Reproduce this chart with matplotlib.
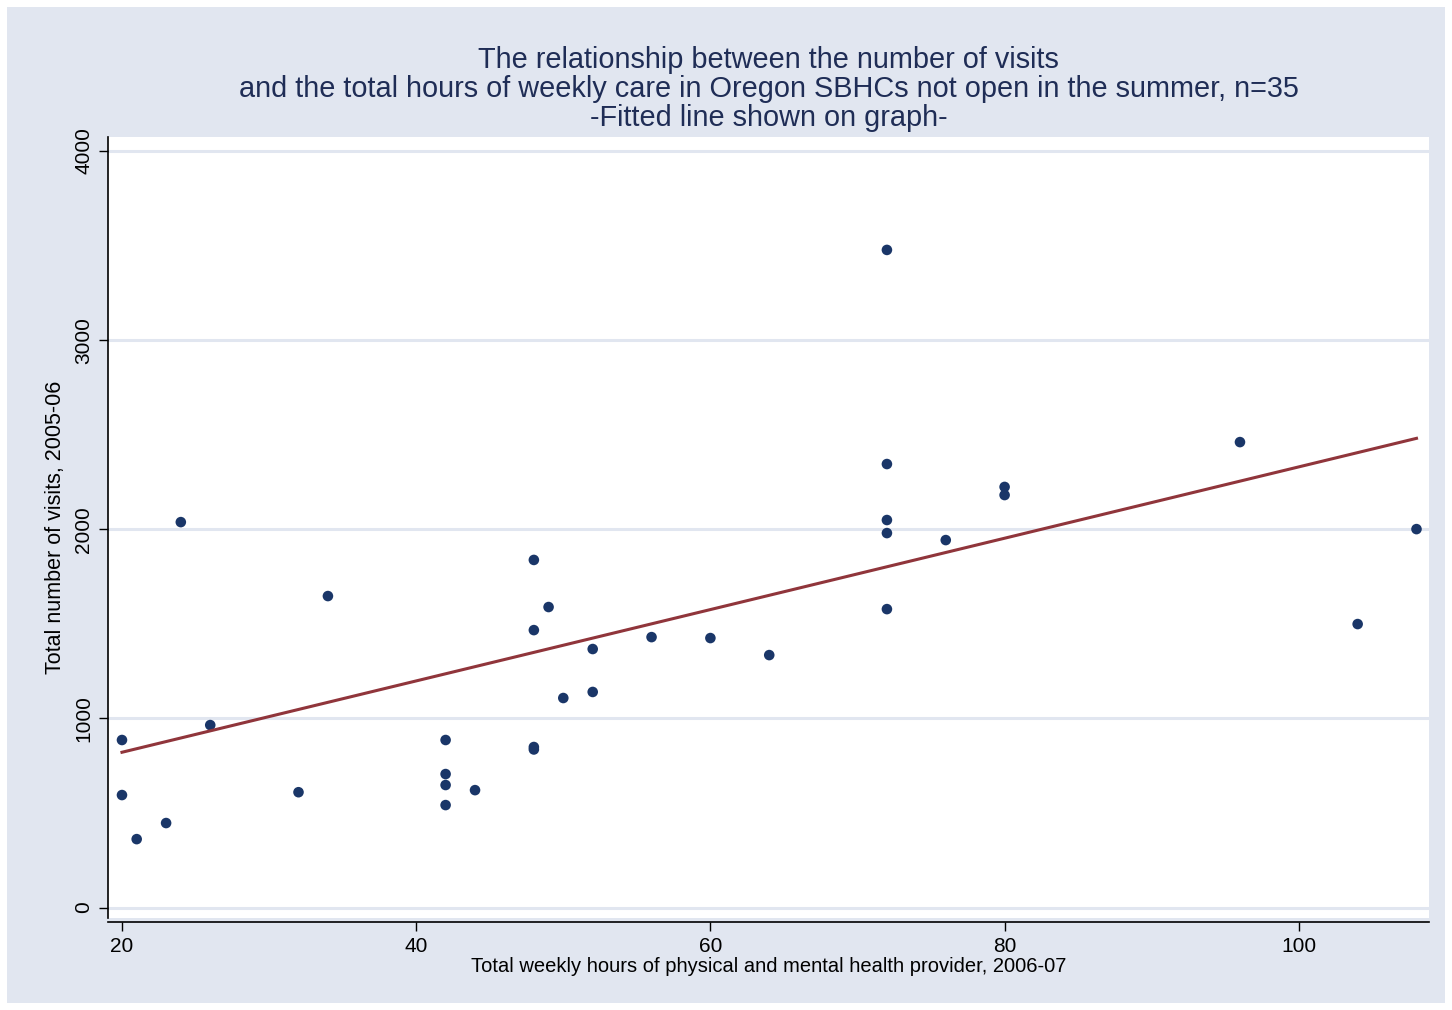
import numpy as np
import matplotlib
matplotlib.use("Agg")
import matplotlib.pyplot as plt
from matplotlib.patches import Rectangle

plt.rcParams["font.family"] = ["Liberation Sans", "DejaVu Sans"]

# weekly provider hours vs. total visits (n=35)
hours = [20, 20, 21, 23, 24, 26, 32, 34,
         42, 42, 42, 42, 44,
         48, 48, 48, 48, 49, 50, 52, 52, 56, 60, 64,
         72, 72, 72, 72, 72, 76, 80, 80, 96, 104, 108]
visits = [886, 595, 362, 447, 2038, 965, 610, 1647,
          886, 706, 648, 542, 621,
          1838, 1467, 849, 836, 1589, 1108, 1367, 1140, 1430, 1425, 1335,
          3477, 2345, 2049, 1980, 1578, 1943, 2224, 2181, 2461, 1499, 2001]

# fitted line as drawn on the original graph (intercept, slope)
fit_intercept = 444
fit_slope = 18.86

title_lines = ["The relationship between the number of visits",
               "and the total hours of weekly care in Oregon SBHCs not open in the summer, n=35",
               "-Fitted line shown on graph-"]
x_ticks = [20, 40, 60, 80, 100]
y_ticks = [0, 1000, 2000, 3000, 4000]

bg = "#e1e6f0"
navy = "#1a3668"
title_col = "#1f2d56"
fit_col = "#90353b"

fig = plt.figure(figsize=(14.52, 10.10), dpi=100)
fig.patch.set_facecolor("white")
fig.patches.append(Rectangle((7 / 1452, 7 / 1010), 1 - 14 / 1452, 1 - 14 / 1010,
                             transform=fig.transFigure, facecolor=bg,
                             edgecolor="none", zorder=-5))

ax = fig.add_axes([108 / 1452, 92 / 1010, 1321 / 1452, 781 / 1010])
ax.set_facecolor("white")

for v in y_ticks:
    ax.axhline(v, color=bg, lw=2.2, zorder=1)

ax.scatter(hours, visits, s=58, color=navy, edgecolors="none", zorder=3)

xs = np.array([min(hours), max(hours)])
ax.plot(xs, fit_intercept + fit_slope * xs, color=fit_col, lw=2.2, zorder=4)

ax.set_xlim(19.05, 108.85)
ax.set_ylim(-55, 4074)
ax.set_xticks(x_ticks)
ax.set_yticks(y_ticks)
ax.set_yticklabels([str(v) for v in y_ticks], rotation=90, va="center")
ax.tick_params(axis="both", direction="out", length=6.5, width=1, color="black",
               labelsize=15, pad=4)

for s in ["top", "right"]:
    ax.spines[s].set_visible(False)
ax.spines["bottom"].set_position(("outward", 3))
ax.spines["left"].set_linewidth(1.2)
ax.spines["bottom"].set_linewidth(1.2)

ax.set_xlabel("Total weekly hours of physical and mental health provider, 2006-07",
              fontsize=14.5, labelpad=1)
ax.set_ylabel("Total number of visits, 2005-06", fontsize=15.5, labelpad=6)

cx = (108 + 1429) / 2 / 1452
for i, line in enumerate(title_lines):
    fig.text(cx, 1 - (60 + 29 * i) / 1010, line, ha="center", va="center",
             fontsize=20.8, color=title_col)

fig.savefig("out.png", dpi=100, facecolor=fig.get_facecolor())
